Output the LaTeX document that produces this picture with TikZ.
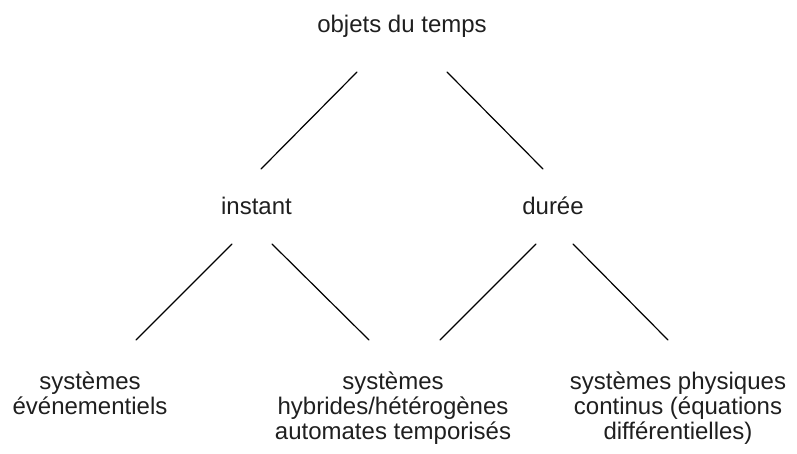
\documentclass[tikz,border=0pt]{standalone}
\usepackage{fontspec}
\setmainfont{Liberation Sans}
\newcommand\lblfont{\fontsize{24}{25}\selectfont}
\newcommand\stt{\rule{0pt}{23pt}}
\tikzset{
  lbl/.style={inner sep=0pt, anchor=north, align=center, font=\lblfont, text=black!88},
  edge/.style={line width=1.2pt, line cap=round}
}
\begin{document}
\begin{tikzpicture}[x=1pt,y=-1pt]
\useasboundingbox (0,0) rectangle (797,453);
\node[lbl] (root) at (402,9) {\stt objets du temps};
\node[lbl] (instant) at (256.5,191) {\stt instant};
\node[lbl] (duree) at (553,191) {\stt durée};
\node[lbl] (ev) at (90,366) {\stt systèmes\\événementiels};
\node[lbl] (hy) at (393,366) {\stt systèmes\\hybrides/hétérogènes\\automates temporisés};
\node[lbl] (ph) at (678,366) {\stt systèmes physiques\\continus (équations\\différentielles)};
\coordinate (a1) at (357,72);  \coordinate (a2) at (261,169);
\coordinate (b1) at (447,72);  \coordinate (b2) at (543,169);
\coordinate (c1) at (232,244); \coordinate (c2) at (136,340);
\coordinate (d1) at (272,244); \coordinate (d2) at (369,340);
\coordinate (e1) at (536,244); \coordinate (e2) at (440,340);
\coordinate (f1) at (573,244); \coordinate (f2) at (668,340);
\draw[edge] (a1) -- (a2);
\draw[edge] (b1) -- (b2);
\draw[edge] (c1) -- (c2);
\draw[edge] (d1) -- (d2);
\draw[edge] (e1) -- (e2);
\draw[edge] (f1) -- (f2);
\end{tikzpicture}
\end{document}
